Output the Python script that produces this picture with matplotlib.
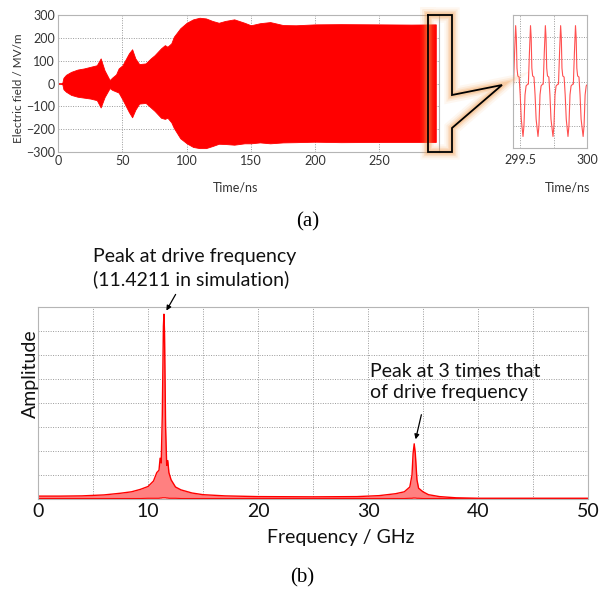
import matplotlib
matplotlib.use("Agg")
import matplotlib.pyplot as plt
from matplotlib.lines import Line2D

W, H = 604, 592

# (a) field envelope over the whole run, MV/m
t_env = [0, 3, 4, 6, 10, 15, 20, 25, 30, 33, 36, 40, 42, 45, 47, 50, 55, 57.5, 60, 63,
         68, 72, 75, 80, 83, 85, 88, 90, 95, 100, 105, 110, 115, 120, 125, 130, 137,
         145, 150, 157, 165, 175, 185, 200, 220, 250, 275, 294]
env_up = [0, 0, 25, 38, 51, 61, 66, 73, 80, 110, 58, 15, 26, 40, 66, 80, 132, 150, 110, 85,
          88, 110, 124, 154, 168, 161, 176, 205, 242, 266, 281, 288, 285, 274, 266, 274, 281,
          266, 255, 264, 269, 256, 255, 259, 260, 259, 258, 259]
env_low = [0, 0, -25, -36, -50, -58, -62, -66, -73, -105, -60, -20, -28, -35, -40, -70, -125,
           -148, -115, -88, -85, -105, -120, -150, -155, -150, -170, -195, -240, -262, -278,
           -283, -283, -274, -264, -265, -268, -262, -262, -258, -262, -258, -257, -255, -257,
           -256, -256, -256]

# zoom on the last half nanosecond
t_zoom = [299.445, 299.451, 299.459, 299.467, 299.472, 299.477, 299.483, 299.493, 299.501,
          299.509, 299.522, 299.529, 299.537, 299.545, 299.557, 299.562, 299.570, 299.578,
          299.583, 299.588, 299.594, 299.604, 299.612, 299.620, 299.634, 299.641, 299.649,
          299.657, 299.668, 299.673, 299.681, 299.689, 299.694, 299.699, 299.705, 299.715,
          299.723, 299.731, 299.746, 299.753, 299.761, 299.769, 299.782, 299.787, 299.795,
          299.803, 299.808, 299.813, 299.819, 299.829, 299.837, 299.845, 299.858, 299.865,
          299.873, 299.881, 299.893, 299.898, 299.906, 299.914, 299.919, 299.924, 299.930,
          299.940, 299.948, 299.956, 299.971, 299.978, 299.986, 299.994, 300.000]
e_zoom = [-15, -14, 130, 252, 200, 60, 25, 20, -60,
          -170, -248, -200, -60, -20, -12, -12, 130, 252,
          200, 60, 25, 20, -60, -170, -248, -200, -60,
          -20, -12, -12, 130, 252, 200, 60, 25, 20,
          -60, -170, -248, -200, -60, -20, -12, -12, 130,
          252, 200, 60, 25, 20, -60, -170, -248, -200,
          -60, -20, -12, -12, 130, 252, 200, 60, 25,
          20, -60, -170, -248, -200, -60, -20, -15]

# (b) spectrum, arbitrary amplitude (grid units)
f_ghz = [0, 2, 4, 6, 7.5, 8.5, 9.3, 10.0, 10.5, 10.8, 11.0, 11.1, 11.2, 11.3, 11.4, 11.45,
         11.5, 11.6, 11.7, 11.8, 11.9, 12.1, 12.5, 13, 14, 15, 17, 20, 25, 29, 31, 32.5,
         33.3, 33.8, 34.0, 34.1, 34.2, 34.3, 34.45, 34.6, 35, 35.5, 36.5, 38, 40, 50]
amp_up = [0.12, 0.12, 0.13, 0.17, 0.24, 0.3, 0.4, 0.52, 0.75, 1.1, 1.2, 1.7, 1.5, 3.5, 7.2,
          7.7, 7.0, 3.0, 1.4, 1.6, 1.1, 0.8, 0.5, 0.38, 0.25, 0.18, 0.13, 0.1, 0.09, 0.1,
          0.14, 0.22, 0.3, 0.5, 1.0, 1.9, 2.3, 1.9, 0.8, 0.45, 0.3, 0.18, 0.1, 0.05, 0.03, 0.03]
amp_low = [0.02, 0.02, 0.02, 0.02, 0.02, 0.02, 0.02, 0.03, 0.03, 0.03, 0.03, 0.04, 0.04, 0.05,
           0.05, 0.05, 0.05, 0.05, 0.04, 0.04, 0.03, 0.03, 0.03, 0.02, 0.02, 0.02, 0.02, 0.02,
           0.02, 0.02, 0.02, 0.02, 0.02, 0.03, 0.03, 0.04, 0.04, 0.04, 0.03, 0.03, 0.02, 0.02,
           0.02, 0.02, 0.02, 0.02]


def box(l, t, r, b):
    return [l / W, 1 - b / H, (r - l) / W, (b - t) / H]


def fxy(x, y):
    return x / W, 1 - y / H


plt.rcParams["font.family"] = ["Lato", "DejaVu Sans"]
GRID = dict(color="#9a9a9a", ls=(0, (1, 1.5)), lw=0.7)
SPINE = "#b5b5b5"
SMALL = 9

fig = plt.figure(figsize=(W / 100, H / 100), dpi=100)

# ---- (a) main time trace
ax = fig.add_axes(box(58.3, 15, 439, 152))
ax.fill_between(t_env, env_low, env_up, color="red", lw=0.6, edgecolor="red")
ax.set_xlim(0, 296.5)
ax.set_ylim(-300, 300)
ax.set_xticks(range(0, 300, 50))
ax.set_yticks(range(-300, 301, 100))
ax.grid(True, **GRID)
ax.set_axisbelow(True)
ax.tick_params(length=0, labelsize=SMALL, labelcolor="#333333", pad=2.5)
for s in ax.spines.values():
    s.set_color(SPINE)
fig.text(*fxy(19, 88), "Electric field / MV/m", rotation=90, ha="center", va="center",
         fontsize=8.5, color="#333333")
fig.text(*fxy(236, 187), "Time/ns", ha="center", va="center", fontsize=SMALL,
         color="#333333")

# ---- (a) zoomed inset
ax2 = fig.add_axes(box(512.7, 15, 587, 148))
ax2.plot(t_zoom, e_zoom, color="#ff5050", lw=0.8)
ax2.set_xlim(299.445, 300.0)
ax2.set_ylim(-300, 300)
ax2.set_xticks([299.5, 299.75, 300])
ax2.set_xticklabels(["299.5", "", "300"])
ax2.set_yticks(range(-300, 301, 100))
ax2.set_yticklabels([])
ax2.grid(True, **GRID)
ax2.tick_params(length=0, labelsize=SMALL, labelcolor="#333333", pad=4)
for s in ax2.spines.values():
    s.set_color(SPINE)
fig.text(*fxy(568, 187), "Time/ns", ha="center", va="center", fontsize=SMALL,
         color="#333333")

# ---- callout outline with orange glow
ov = fig.add_axes([0, 0, 1, 1], zorder=5)
ov.set_xlim(0, W)
ov.set_ylim(H, 0)
ov.axis("off")
cx = [428, 452, 452, 502, 452, 452, 428, 428]
cy = [15, 15, 95, 85, 128, 152, 152, 15]
for lw, a in [(11, 0.08), (8, 0.12), (5.5, 0.18), (3.5, 0.25)]:
    ov.add_line(Line2D(cx, cy, color="#f39a4a", lw=lw, alpha=a, solid_joinstyle="miter"))
ov.add_line(Line2D(cx, cy, color="black", lw=1.3, solid_joinstyle="miter"))

# ---- (b) spectrum
ax3 = fig.add_axes(box(38, 307, 588, 499))
ax3.fill_between(f_ghz, amp_low, amp_up, color="#ff8080", lw=0)
ax3.plot(f_ghz, amp_up, color="red", lw=1.0)
ax3.plot(f_ghz, amp_low, color="red", lw=0.8)
ax3.set_xlim(0, 50)
ax3.set_ylim(0, 8)
ax3.set_xticks(range(0, 51, 5))
ax3.set_xticklabels(["0", "", "10", "", "20", "", "30", "", "40", "", "50"])
ax3.set_yticks(range(0, 9))
ax3.set_yticklabels([])
ax3.grid(True, **GRID)
ax3.set_axisbelow(True)
ax3.tick_params(length=0, labelsize=14, labelcolor="#111111", pad=3)
for s in ax3.spines.values():
    s.set_color(SPINE)
fig.text(*fxy(341, 537), "Frequency / GHz", ha="center", va="center", fontsize=14,
         color="#111111")
fig.text(*fxy(30, 374), "Amplitude", rotation=90, ha="center", va="center", fontsize=14,
         color="#111111")

fig.text(*fxy(93, 268), "Peak at drive frequency\n(11.4211 in simulation)", ha="left",
         va="center", fontsize=14, color="#111111", linespacing=1.3)
fig.text(*fxy(370, 382), "Peak at 3 times that\nof drive frequency", ha="left",
         va="center", fontsize=14, color="#111111", linespacing=1.3)
ov.annotate("", xy=(165, 313), xytext=(177, 292),
            arrowprops=dict(arrowstyle="-|>", color="black", lw=0.9, mutation_scale=7))
ov.annotate("", xy=(415, 442), xytext=(422, 412),
            arrowprops=dict(arrowstyle="-|>", color="black", lw=0.9, mutation_scale=7))

fig.text(*fxy(308, 222), "(a)", ha="center", va="center", fontsize=15,
         family="Liberation Serif")
fig.text(*fxy(302, 578), "(b)", ha="center", va="center", fontsize=15,
         family="Liberation Serif")

fig.savefig("out.png", dpi=100)
